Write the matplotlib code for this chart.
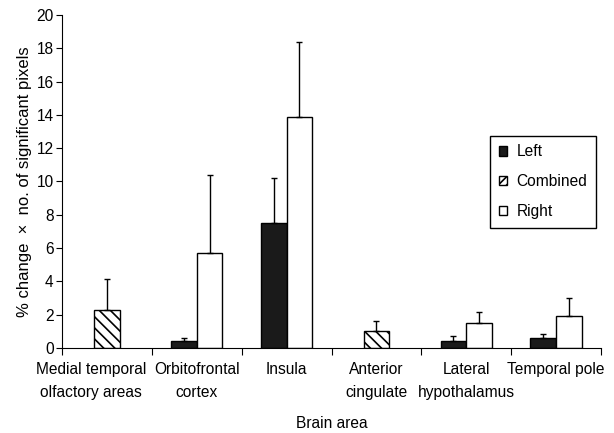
import numpy as np
import matplotlib.pyplot as plt
from matplotlib.patches import Patch

plt.rcParams['font.family'] = ['Liberation Sans', 'DejaVu Sans']
plt.rcParams['hatch.linewidth'] = 1.2

areas = ['Medial temporal\nolfactory areas', 'Orbitofrontal\ncortex', 'Insula',
         'Anterior\ncingulate', 'Lateral\nhypothalamus', 'Temporal pole']
# nan = no bar for that side
left = [np.nan, 0.45, 7.5, np.nan, 0.45, 0.6]
left_err = [np.nan, 0.15, 2.7, np.nan, 0.25, 0.25]
right = [np.nan, 5.7, 13.9, np.nan, 1.5, 1.9]
right_err = [np.nan, 4.7, 4.5, np.nan, 0.65, 1.1]
combined = [2.3, np.nan, np.nan, 1.0, np.nan, np.nan]
combined_err = [1.85, np.nan, np.nan, 0.6, np.nan, np.nan]

fig = plt.figure(figsize=(6.14, 4.33), dpi=100)
ax = fig.add_axes([62 / 614, 1 - 348 / 433, 539 / 614, 333 / 433])

w = 0.285
x = np.arange(len(areas)) + 0.5
ekw = dict(fmt='none', ecolor='black', elinewidth=1.0, capsize=2.5, capthick=1.0)
zero = np.zeros(len(areas))

ax.bar(x - w / 2, left, w, color='#1a1a1a', edgecolor='black', linewidth=1.0)
ax.errorbar(x - w / 2, left, yerr=[zero, left_err], **ekw)
ax.bar(x + w / 2, right, w, color='white', edgecolor='black', linewidth=1.0)
ax.errorbar(x + w / 2, right, yerr=[zero, right_err], **ekw)
ax.bar(x, combined, w, color='white', edgecolor='black', linewidth=1.0, hatch='\\\\\\')
ax.errorbar(x, combined, yerr=[zero, combined_err], **ekw)

ax.set_xlim(0, 6)
ax.set_ylim(0, 20)
ax.set_yticks(range(0, 21, 2))
ax.set_xticks(range(0, 7))
ax.set_xticklabels([])
# first label sits left of its bar in the original
label_pos = x.copy()
label_pos[0] = 0.32
ax.set_xticks(label_pos, minor=True)
ax.set_xticklabels(areas, minor=True, fontsize=11.2, linespacing=1.65)
ax.tick_params(axis='x', which='minor', length=0, pad=10)
ax.tick_params(axis='x', which='major', length=5, direction='out')
ax.tick_params(axis='y', length=4, direction='out', labelsize=11.2, pad=2)
for s in ['top', 'right']:
    ax.spines[s].set_visible(False)

ax.set_ylabel('% change  \u00d7  no. of significant pixels', fontsize=12, labelpad=3)
ax.set_xlabel('Brain area', fontsize=11.2, labelpad=12)

handles = [Patch(facecolor='#1a1a1a', edgecolor='black'),
           Patch(facecolor='white', edgecolor='black', hatch='////'),
           Patch(facecolor='white', edgecolor='black')]
leg = ax.legend(handles, ['Left', 'Combined', 'Right'], loc='upper left',
                bbox_to_anchor=(0.794, 0.637), borderaxespad=0, fontsize=11.2,
                fancybox=False, edgecolor='black', framealpha=1,
                handlelength=0.55, handleheight=0.55, handletextpad=0.6,
                labelspacing=0.95, borderpad=0.55)
leg.get_frame().set_linewidth(1.0)

fig.savefig('out.png', dpi=100)
